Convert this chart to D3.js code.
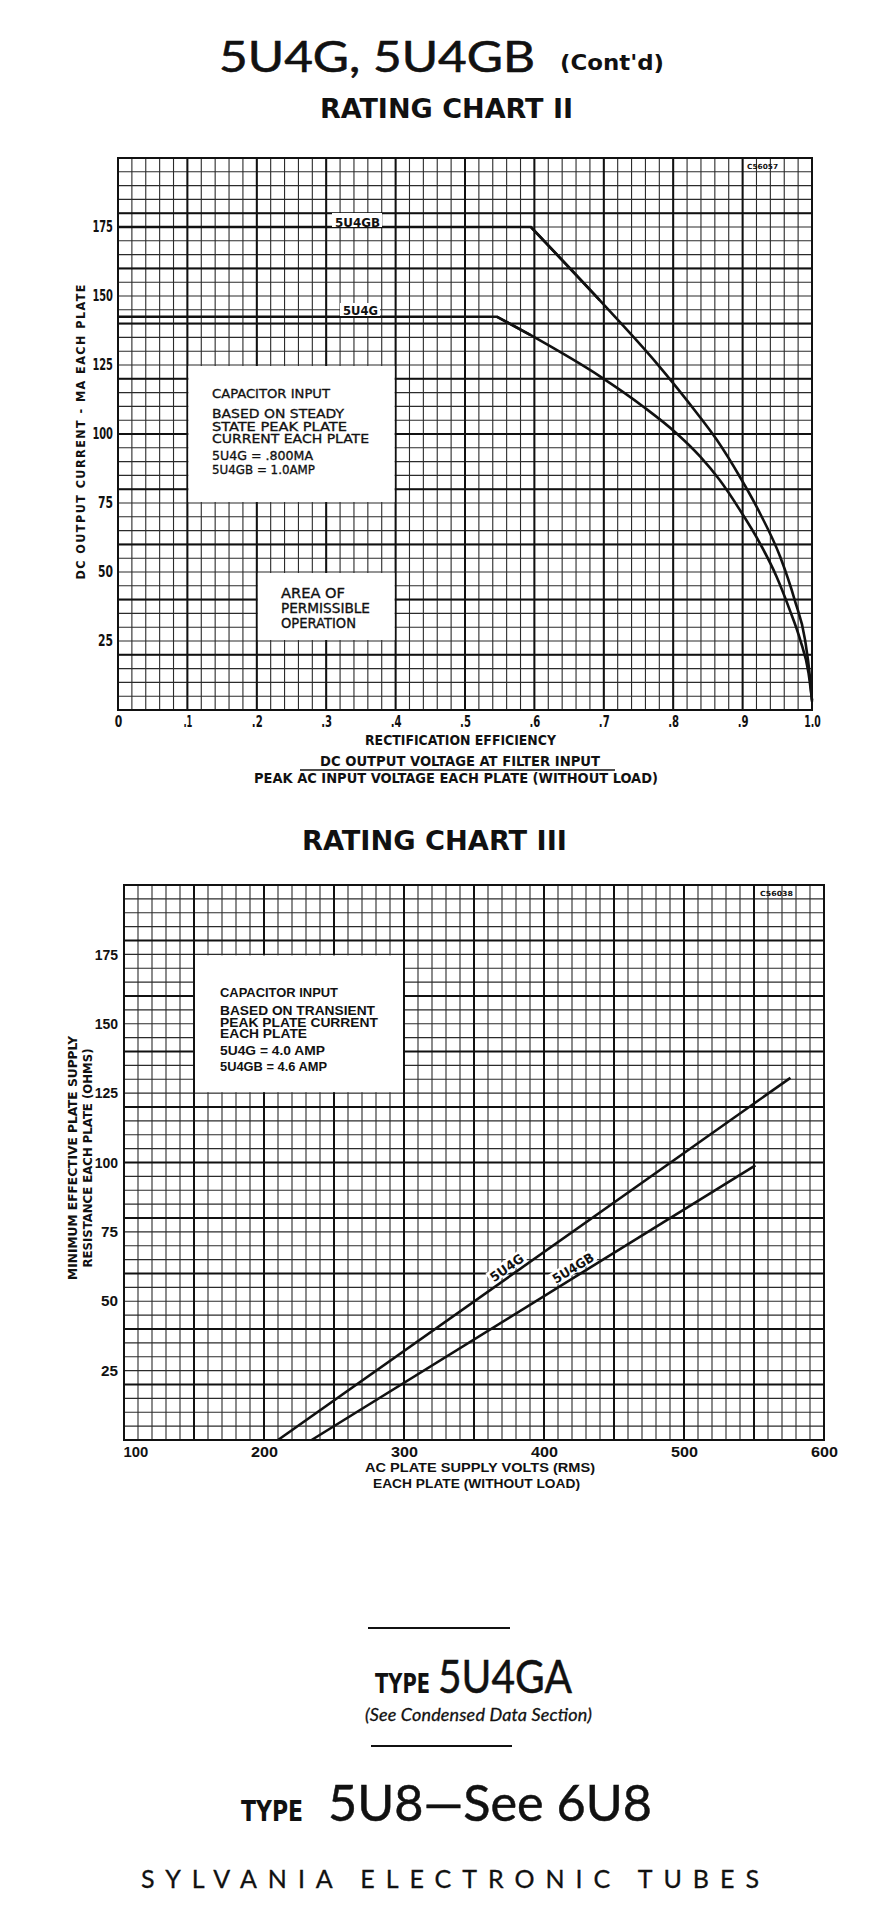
<!DOCTYPE html>
<html><head><meta charset="utf-8">
<script src="https://cdn.jsdelivr.net/npm/d3@7"></script>
<style>body{margin:0;background:#fff}</style>
</head><body>
<svg id="c" width="878" height="1913" xmlns="http://www.w3.org/2000/svg"></svg>
<script>
// ---------- DATA ----------
// Rating Chart II : x = rectification efficiency, y = DC output current (mA)
const c2XTicks = [0, 0.1, 0.2, 0.3, 0.4, 0.5, 0.6, 0.7, 0.8, 0.9, 1.0];
const c2XLabels = ["0", ".1", ".2", ".3", ".4", ".5", ".6", ".7", ".8", ".9", "1.0"];
const c2YTicks = [25, 50, 75, 100, 125, 150, 175];
const c2_5U4GB = [[0, 175], [0.595, 175], [0.694, 148.5], [0.776, 125.7], [0.834, 107.6], [0.863, 97.8],
  [0.896, 84.5], [0.925, 71.3], [0.954, 55.6], [0.975, 39.9], [0.990, 25.4], [0.997, 12], [1.0, 3]];
const c2_5U4G = [[0, 142.5], [0.546, 142.5], [0.594, 135.9], [0.695, 120.8], [0.757, 109.9], [0.805, 100.2],
  [0.839, 91.8], [0.867, 83.3], [0.896, 72.5], [0.925, 60.4], [0.949, 48.3], [0.968, 36.2], [0.983, 25.4],
  [0.995, 13.4], [1.0, 3.6]];
const c2Box1 = {x0: 0.1, x1: 0.4, y0: 75, y1: 125};
const c2Box2 = {x0: 0.2, x1: 0.4, y0: 25, y1: 50};
const c2Box1Lines = ["CAPACITOR INPUT", "BASED ON STEADY", "STATE PEAK PLATE", "CURRENT EACH PLATE", "5U4G = .800MA", "5U4GB = 1.0AMP"];
const c2Box2Lines = ["AREA OF", "PERMISSIBLE", "OPERATION"];

// Rating Chart III : x = AC plate supply volts, y = min plate supply resistance (ohms)
const c3XTicks = [100, 200, 300, 400, 500, 600];
const c3YTicks = [25, 50, 75, 100, 125, 150, 175];
const c3_5U4G = [[210, 0], [576, 130.5]];
const c3_5U4GB = [[234, 0], [551, 99]];
const c3Box = {x0: 150, x1: 300, y0: 125, y1: 175};
const c3BoxLines = ["CAPACITOR INPUT", "BASED ON TRANSIENT", "PEAK PLATE CURRENT", "EACH PLATE", "5U4G = 4.0 AMP", "5U4GB = 4.6 AMP"];

// ---------- DRAW ----------
const svg = d3.select("#c");
svg.append("rect").attr("width", 878).attr("height", 1913).attr("fill", "#fff");
const NARROW = "'Liberation Sans Narrow','DejaVu Sans Condensed','Arial Narrow','Liberation Sans',sans-serif";
const SANS = "'Liberation Sans','DejaVu Sans',sans-serif";
const GEO = "Lato,'Noto Sans','Open Sans',sans-serif";
const INK = "#111";

function txt(g, s, x, y, o = {}) {
  const t = g.append("text").attr("x", x).attr("y", y).text(s)
    .attr("font-family", o.family || NARROW)
    .attr("font-size", o.size || 14)
    .attr("font-weight", o.weight || "bold")
    .attr("fill", INK)
    .attr("text-anchor", o.anchor || "start");
  if (o.style) t.attr("font-style", o.style);
  if (o.len) t.attr("textLength", o.len).attr("lengthAdjust", o.adjust || "spacingAndGlyphs");
  if (o.transform) t.attr("transform", o.transform);
  if (o.stroke) t.attr("stroke", INK).attr("stroke-width", o.stroke);
  return t;
}

function grid(g, x, y) {
  const [xa, xb] = x.range(), [ya, yb] = y.range();
  const minor = g.append("g");
  minor.selectAll("line.vx").data(x.ticks(50)).join("line")
    .attr("x1", d => x(d)).attr("x2", d => x(d)).attr("y1", ya).attr("y2", yb)
    .attr("stroke", "#2b2b2b").attr("stroke-width", 1.1);
  minor.selectAll("line.hy").data(y.ticks(40)).join("line")
    .attr("y1", d => y(d)).attr("y2", d => y(d)).attr("x1", xa).attr("x2", xb)
    .attr("stroke", "#2b2b2b").attr("stroke-width", 1.1);
  const major = g.append("g");
  major.selectAll("line.vx").data(x.ticks(10)).join("line")
    .attr("x1", d => x(d)).attr("x2", d => x(d)).attr("y1", ya).attr("y2", yb)
    .attr("stroke", INK).attr("stroke-width", 2);
  major.selectAll("line.hy").data(y.ticks(8)).join("line")
    .attr("y1", d => y(d)).attr("y2", d => y(d)).attr("x1", xa).attr("x2", xb)
    .attr("stroke", INK).attr("stroke-width", 2);
  g.append("rect").attr("x", xa).attr("y", yb).attr("width", xb - xa).attr("height", ya - yb)
    .attr("fill", "none").attr("stroke", INK).attr("stroke-width", 2);
}

function whiteBox(g, x, y, b) {
  g.append("rect").attr("x", x(b.x0) + 1).attr("y", y(b.y1) + 1)
    .attr("width", x(b.x1) - x(b.x0) - 2).attr("height", y(b.y0) - y(b.y1) - 2).attr("fill", "#fff");
}

function styleAxis(a, size, family, charW) {
  a.select(".domain").remove();
  a.selectAll("line").remove();
  a.selectAll("text").attr("font-family", family).attr("font-size", size).attr("font-weight", "bold").attr("fill", INK)
    .each(function () {
      const s = this.textContent;
      const w = s.split("").reduce((acc, ch) => acc + (ch === "." ? charW * 0.45 : (ch === "1" ? charW * 0.75 : charW)), 0);
      d3.select(this).attr("textLength", w).attr("lengthAdjust", "spacingAndGlyphs");
    });
}

// ===== Header =====
txt(svg, "5U4G, 5U4GB", 219, 72, {family: GEO, size: 42, weight: "normal", len: 316, stroke: 0.6});
txt(svg, "(Cont'd)", 560, 70, {family: NARROW, size: 21, len: 104});
txt(svg, "RATING CHART II", 320, 118, {family: NARROW, size: 27, len: 253});

// ===== Chart II =====
const x2 = d3.scaleLinear([0, 1], [118, 812]);
const y2 = d3.scaleLinear([0, 200], [710, 158]);
const g2 = svg.append("g");
grid(g2, x2, y2);
whiteBox(g2, x2, y2, c2Box1);
whiteBox(g2, x2, y2, c2Box2);

const lineFlat2 = d3.line().x(d => x2(d[0])).y(d => y2(d[1]));
const lineCurve2 = d3.line().x(d => x2(d[0])).y(d => y2(d[1])).curve(d3.curveMonotoneX);
[c2_5U4GB, c2_5U4G].forEach(s => {
  g2.append("path").attr("d", lineFlat2(s.slice(0, 3))).attr("fill", "none").attr("stroke", INK).attr("stroke-width", 2.6);
  g2.append("path").attr("d", lineCurve2(s.slice(1))).attr("fill", "none").attr("stroke", INK).attr("stroke-width", 2.6);
});
// series labels
g2.append("rect").attr("x", 332).attr("y", 213).attr("width", 50).attr("height", 14).attr("fill", "#fff");
txt(g2, "5U4GB", 335, 227, {size: 13, len: 45});
g2.append("rect").attr("x", 340).attr("y", 303).attr("width", 40).attr("height", 13).attr("fill", "#fff");
txt(g2, "5U4G", 343, 315, {size: 13, len: 35});
txt(g2, "C56057", 747, 169, {size: 7, len: 31});

// box texts
const b1y = [398, 418, 431, 443, 460, 474], b1w = [118, 132, 135, 157, 101, 103];
c2Box1Lines.forEach((s, i) => txt(g2, s, 212, b1y[i], {size: 13, weight: "normal", len: b1w[i], stroke: 0.3}));
const b2y = [598, 613, 628], b2w = [64, 89, 75];
c2Box2Lines.forEach((s, i) => txt(g2, s, 281, b2y[i], {size: 13.5, weight: "normal", len: b2w[i], stroke: 0.3}));

// axes
const ax2 = g2.append("g").attr("transform", "translate(0,710)")
  .call(d3.axisBottom(x2).tickValues(c2XTicks).tickFormat((d, i) => c2XLabels[i]).tickSize(0).tickPadding(6));
styleAxis(ax2, 15, NARROW, 7.5);
const ay2 = g2.append("g").attr("transform", "translate(118,0)")
  .call(d3.axisLeft(y2).tickValues(c2YTicks).tickSize(0).tickPadding(5));
styleAxis(ay2, 15, NARROW, 7.5);

txt(g2, "RECTIFICATION EFFICIENCY", 365, 745, {size: 14, len: 191});
txt(g2, "DC OUTPUT VOLTAGE AT FILTER INPUT", 320, 766, {size: 14, len: 280});
g2.append("line").attr("x1", 300).attr("x2", 615).attr("y1", 770).attr("y2", 770).attr("stroke", INK).attr("stroke-width", 1.6);
txt(g2, "PEAK AC INPUT VOLTAGE EACH PLATE (WITHOUT LOAD)", 254, 783, {size: 14, len: 404});
txt(g2, "DC OUTPUT CURRENT - MA EACH PLATE", 0, 0, {size: 12.5, anchor: "middle", len: 295, adjust: "spacing",
  transform: "translate(85,432) rotate(-90)"});

// ===== Chart III =====
txt(svg, "RATING CHART III", 302, 850, {family: NARROW, size: 27, len: 265});
const x3 = d3.scaleLinear([100, 600], [124, 824]);
const y3 = d3.scaleLinear([0, 200], [1440, 885]);
const g3 = svg.append("g");
grid(g3, x3, y3);
whiteBox(g3, x3, y3, c3Box);

const line3 = d3.line().x(d => x3(d[0])).y(d => y3(d[1]));
[c3_5U4G, c3_5U4GB].forEach(s => {
  g3.append("path").attr("d", line3(s)).attr("fill", "none").attr("stroke", INK).attr("stroke-width", 2.6);
});
// rotated series labels along lines
function lineLabel(s, v, str, w) {
  const [p0, p1] = s;
  const px0 = x3(p0[0]), py0 = y3(p0[1]), px1 = x3(p1[0]), py1 = y3(p1[1]);
  const ang = Math.atan2(py1 - py0, px1 - px0) * 180 / Math.PI;
  const t = (v - p0[0]) / (p1[0] - p0[0]);
  const cx = px0 + t * (px1 - px0), cy = py0 + t * (py1 - py0);
  const lg = g3.append("g").attr("transform", `translate(${cx},${cy}) rotate(${ang})`);
  lg.append("rect").attr("x", -w / 2 - 2).attr("y", -16).attr("width", w + 4).attr("height", 13).attr("fill", "#fff");
  txt(lg, str, 0, -4, {size: 13, anchor: "middle", len: w});
}
lineLabel(c3_5U4G, 377, "5U4G", 38);
lineLabel(c3_5U4GB, 424, "5U4GB", 46);
txt(g3, "C56038", 760, 896, {size: 7, len: 33});

const b3y = [997, 1015, 1027, 1038, 1055, 1071], b3w = [118, 155, 158, 87, 105, 107];
c3BoxLines.forEach((s, i) => txt(g3, s, 220, b3y[i], {size: 12.5, family: SANS, len: b3w[i]}));

const ax3 = g3.append("g").attr("transform", "translate(0,1440)")
  .call(d3.axisBottom(x3).tickValues(c3XTicks).tickSize(0).tickPadding(7));
styleAxis(ax3, 14.5, SANS, 9);
ax3.selectAll("text").filter(d => d === 100).attr("text-anchor", "start").attr("dx", -1);
const ay3 = g3.append("g").attr("transform", "translate(124,0)")
  .call(d3.axisLeft(y3).tickValues(c3YTicks).tickSize(0).tickPadding(6));
styleAxis(ay3, 14.5, SANS, 8.5);

txt(g3, "AC PLATE SUPPLY VOLTS (RMS)", 365, 1472, {size: 13.5, family: SANS, len: 230});
txt(g3, "EACH PLATE (WITHOUT LOAD)", 373, 1488, {size: 13.5, family: SANS, len: 207});
txt(g3, "MINIMUM EFFECTIVE PLATE SUPPLY", 0, 0, {size: 12.5, anchor: "middle", len: 244,
  transform: "translate(77,1158) rotate(-90)"});
txt(g3, "RESISTANCE EACH PLATE (OHMS)", 0, 0, {size: 12.5, anchor: "middle", len: 219,
  transform: "translate(92,1158) rotate(-90)"});

// ===== Footer =====
svg.append("line").attr("x1", 368).attr("x2", 510).attr("y1", 1628).attr("y2", 1628).attr("stroke", INK).attr("stroke-width", 2);
txt(svg, "TYPE", 375, 1693, {size: 26, len: 55});
txt(svg, "5U4GA", 438, 1693, {family: GEO, size: 46, weight: "normal", len: 134, stroke: 0.5});
txt(svg, "(See Condensed Data Section)", 365, 1721, {family: GEO, size: 18, weight: "normal", style: "italic", len: 227, adjust: "spacing", stroke: 0.3});
svg.append("line").attr("x1", 371).attr("x2", 512).attr("y1", 1746).attr("y2", 1746).attr("stroke", INK).attr("stroke-width", 2);
txt(svg, "TYPE", 241, 1821, {size: 28, len: 62});
txt(svg, "5U8\u2014See 6U8", 328, 1821, {family: GEO, size: 50, weight: "normal", len: 324, stroke: 0.5});
txt(svg, "SYLVANIA ELECTRONIC TUBES", 141, 1888, {family: GEO, size: 25, weight: "normal", len: 618, adjust: "spacing", stroke: 0.3});
</script>
</body></html>
